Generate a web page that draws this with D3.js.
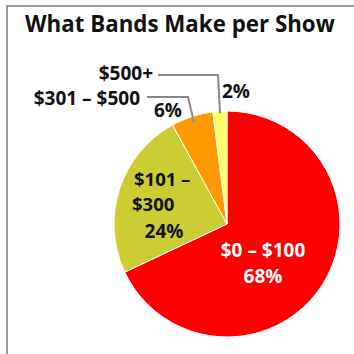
<!DOCTYPE html>
<html><head><meta charset="utf-8">
<script src="https://cdn.jsdelivr.net/npm/d3@7"></script>
<style>html,body{margin:0;padding:0;background:#fff;}svg{display:block;}</style>
</head><body>
<svg id="c" width="354" height="354"></svg>
<script>
const categories = ["$0 – $100", "$101 – $300", "$301 – $500", "$500+"];
const values = [68, 24, 6, 2];
const colors = ["#ff0000", "#cccc33", "#ff9900", "#ffff66"];
const title = "What Bands Make per Show";

const svg = d3.select("#c");
const font = "'Open Sans', sans-serif";

// frame
svg.append("path").attr("d", "M7,360 L7,6 L360,6")
  .attr("fill", "none").attr("stroke", "#999").attr("stroke-width", 2);

const t = svg.append("text").attr("x", 25).attr("y", 32)
  .attr("font-family", font).attr("font-weight", 700).attr("font-size", 20)
  .attr("fill", "#111").text(title);
// fit title to the reference width
const tw = t.node().getComputedTextLength();
t.attr("font-size", 20 * 310 / tw);

const cx = 227, cy = 224, r = 113;
const pie = d3.pie().sort(null).value(d => d)
  .startAngle(0).endAngle(2 * Math.PI);
const arcs = pie(values);
const arc = d3.arc().innerRadius(0).outerRadius(r);
const g = svg.append("g").attr("transform", `translate(${cx},${cy})`);
g.selectAll("path").data(arcs).join("path")
  .attr("d", arc).attr("fill", (d, i) => colors[i])
  .attr("stroke", "#fff").attr("stroke-width", 1);

const lab = (x, y, t, fill, anchor, fs) => svg.append("text")
  .attr("x", x).attr("y", y).attr("font-family", font).attr("font-weight", 700)
  .attr("font-size", fs || 19).attr("fill", fill).attr("text-anchor", anchor || "start").text(t);

const pct = values.map(v => v + "%");
// $0 - $100
lab(263, 257, categories[0], "#fff", "middle");
lab(263, 283, pct[0], "#fff", "middle");
// $101 - $300 (wrapped onto two lines)
const parts = categories[1].split(" ");
lab(134, 186, parts[0] + " " + parts[1], "#111", "start", 18.5);
lab(132, 211, parts[2], "#111", "start", 18.5);
lab(164, 238, pct[1], "#111", "middle");
// $301 - $500
lab(140, 105, categories[2], "#111", "end");
lab(168, 117, pct[2], "#111", "middle");
// $500+
lab(153, 80, categories[3], "#111", "end");
lab(236, 98, pct[3], "#111", "middle");

// leader lines anchored at arc points
const pt = (a, rr) => [cx + rr * Math.sin(a), cy - rr * Math.cos(a)];
const mid = d => (d.startAngle + d.endAngle) / 2;
const p3 = pt(mid(arcs[3]), r - 2);
svg.append("polyline")
  .attr("points", [[158, 75], [218, 75], p3].map(p => p.join(",")).join(" "))
  .attr("fill", "none").attr("stroke", "#888").attr("stroke-width", 2);
const p2 = pt(mid(arcs[2]), r - 6);
svg.append("polyline")
  .attr("points", [[147, 97], [188, 97], p2].map(p => p.join(",")).join(" "))
  .attr("fill", "none").attr("stroke", "#888").attr("stroke-width", 2);
</script>
</body></html>
